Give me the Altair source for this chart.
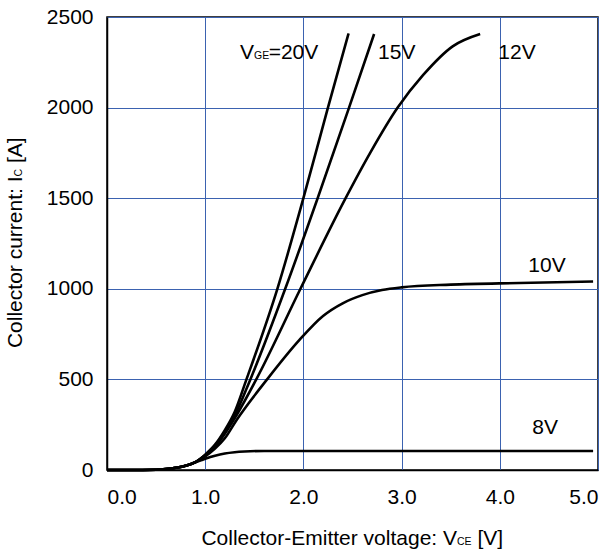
import altair as alt
import pandas as pd

# ---- data (V_CE [V], I_C [A]) ----
v_20 = [0.0, 0.3, 0.5, 0.6, 0.7, 0.8, 0.9, 1.0, 1.1, 1.2, 1.3, 1.42, 1.735, 2.0, 2.25, 2.46]
i_20 = [0, 0, 1, 5, 12, 23, 43, 85, 140, 220, 320, 500, 1000, 1500, 2000, 2410]

v_15 = [0.0, 0.3, 0.5, 0.6, 0.7, 0.8, 0.9, 1.0, 1.1, 1.2, 1.3, 1.46, 1.815, 2.145, 2.465, 2.72]
i_15 = [0, 0, 1, 5, 12, 23, 43, 83, 135, 210, 300, 500, 1000, 1500, 2000, 2406]

v_12 = [0.0, 0.3, 0.5, 0.6, 0.7, 0.8, 0.9, 1.0, 1.1, 1.2, 1.3, 1.52, 1.97, 2.43, 2.68, 2.96, 3.22, 3.52, 3.80]
i_12 = [0, 0, 1, 5, 12, 23, 43, 80, 128, 200, 285, 500, 1000, 1500, 1750, 2000, 2180, 2338, 2406]

v_10 = [0.0, 0.3, 0.5, 0.6, 0.7, 0.8, 0.9, 1.0, 1.1, 1.2, 1.32, 1.63, 1.96, 2.2, 2.4, 2.6, 2.8, 3.0, 3.5, 4.2, 4.95]
i_10 = [0, 0, 1, 5, 12, 23, 43, 75, 118, 175, 276, 500, 718, 850, 920, 965, 993, 1008, 1023, 1032, 1040]

v_8 = [0.0, 0.3, 0.5, 0.6, 0.7, 0.8, 0.9, 0.95, 1.0, 1.1, 1.2, 1.3, 1.4, 1.6, 2.0, 3.0, 4.0, 4.95]
i_8 = [0, 0, 1, 5, 12, 23, 42, 52, 62, 79, 91, 98, 102, 105, 105, 105, 105, 105]

series_names = ["20V", "15V", "12V", "10V", "8V"]
series_v = [v_20, v_15, v_12, v_10, v_8]
series_i = [i_20, i_15, i_12, i_10, i_8]

# curve labels
label_text = ["15V", "12V", "10V", "8V"]
label_v = [2.76, 3.985, 4.29, 4.33]
label_i = [2270, 2270, 1090, 199]
vge_v = [1.355]
vge_i = [2270]

x_ticks = [0, 1, 2, 3, 4, 5]
y_ticks = [0, 500, 1000, 1500, 2000, 2500]

rows = []
for name, vs, is_ in zip(series_names, series_v, series_i):
    for k, (v, i) in enumerate(zip(vs, is_)):
        rows.append({"series": name, "k": k, "V": v, "I": i})
df = pd.DataFrame(rows)
lab_df = pd.DataFrame({"t": label_text, "V": label_v, "I": label_i})
vge_df = pd.DataFrame({"V": vge_v, "I": vge_i})

FONT = "Liberation Sans"
BIG = 21
SMALL = 10.5
GRID = "#3B62B0"

xs = alt.Scale(domain=[0, 5], nice=False, zero=False)
ys = alt.Scale(domain=[0, 2500], nice=False)

x_enc = alt.X("V:Q", scale=xs, axis=alt.Axis(
    values=x_ticks, format=".1f", title=None, grid=True, gridColor=GRID, gridWidth=1,
    ticks=False, domainColor="black", domainWidth=1.5, labelFont=FONT, labelFontSize=BIG,
    labelColor="black", labelPadding=16))
y_enc = alt.Y("I:Q", scale=ys, axis=alt.Axis(
    values=y_ticks, format="d", title=None, grid=True, gridColor=GRID, gridWidth=1,
    ticks=False, domainColor="black", domainWidth=1.5, labelFont=FONT, labelFontSize=BIG,
    labelColor="black", labelPadding=14))

lines = alt.Chart(df).mark_line(color="black", strokeWidth=2.6, interpolate="monotone").encode(
    x=x_enc, y=y_enc, detail="series:N", order="k:Q")

labels = alt.Chart(lab_df).mark_text(font=FONT, fontSize=BIG, align="left", baseline="alphabetic",
                                     color="black").encode(x="V:Q", y="I:Q", text="t:N")

vge_a = alt.Chart(vge_df).mark_text(text="V", font=FONT, fontSize=BIG, align="left",
                                    baseline="alphabetic", color="black").encode(x="V:Q", y="I:Q")
vge_b = alt.Chart(vge_df).mark_text(text="GE", font=FONT, fontSize=SMALL, align="left",
                                    baseline="alphabetic", color="black", dx=14).encode(x="V:Q", y="I:Q")
vge_c = alt.Chart(vge_df).mark_text(text="=20V", font=FONT, fontSize=BIG, align="left",
                                    baseline="alphabetic", color="black", dx=28.6).encode(x="V:Q", y="I:Q")

one = pd.DataFrame({"_": [0]})


def title_piece(text, x, y, size, align, angle=0):
    kw = dict(text=text, font=FONT, fontSize=size, align=align, baseline="alphabetic", color="black")
    if angle:
        kw["angle"] = angle
    return alt.Chart(one).mark_text(**kw).encode(x=alt.value(x), y=alt.value(y))


xt1 = title_piece("Collector-Emitter voltage: V", 350, 528, BIG, "right")
xt2 = title_piece("CE", 350, 528, SMALL, "left")
xt3 = title_piece("[V]", 370.4, 528, BIG, "left")

yt1 = title_piece("Collector current: I", -85, 159.5, BIG, "right", 270)
yt2 = title_piece("C", -85, 159.5, SMALL, "left", 270)
yt3 = title_piece("[A]", -85, 146.1, BIG, "left", 270)

chart = alt.layer(lines, labels, vge_a, vge_b, vge_c, xt1, xt2, xt3, yt1, yt2, yt3).properties(
    width=491, height=453,
    autosize=alt.AutoSizeParams(type="none"),
    padding={"left": 107, "top": 17, "right": 13, "bottom": 80},
    background="white",
).configure_view(stroke="black", strokeWidth=1.5)

chart.save("out.html", embed_options={"renderer": "svg", "actions": False})
